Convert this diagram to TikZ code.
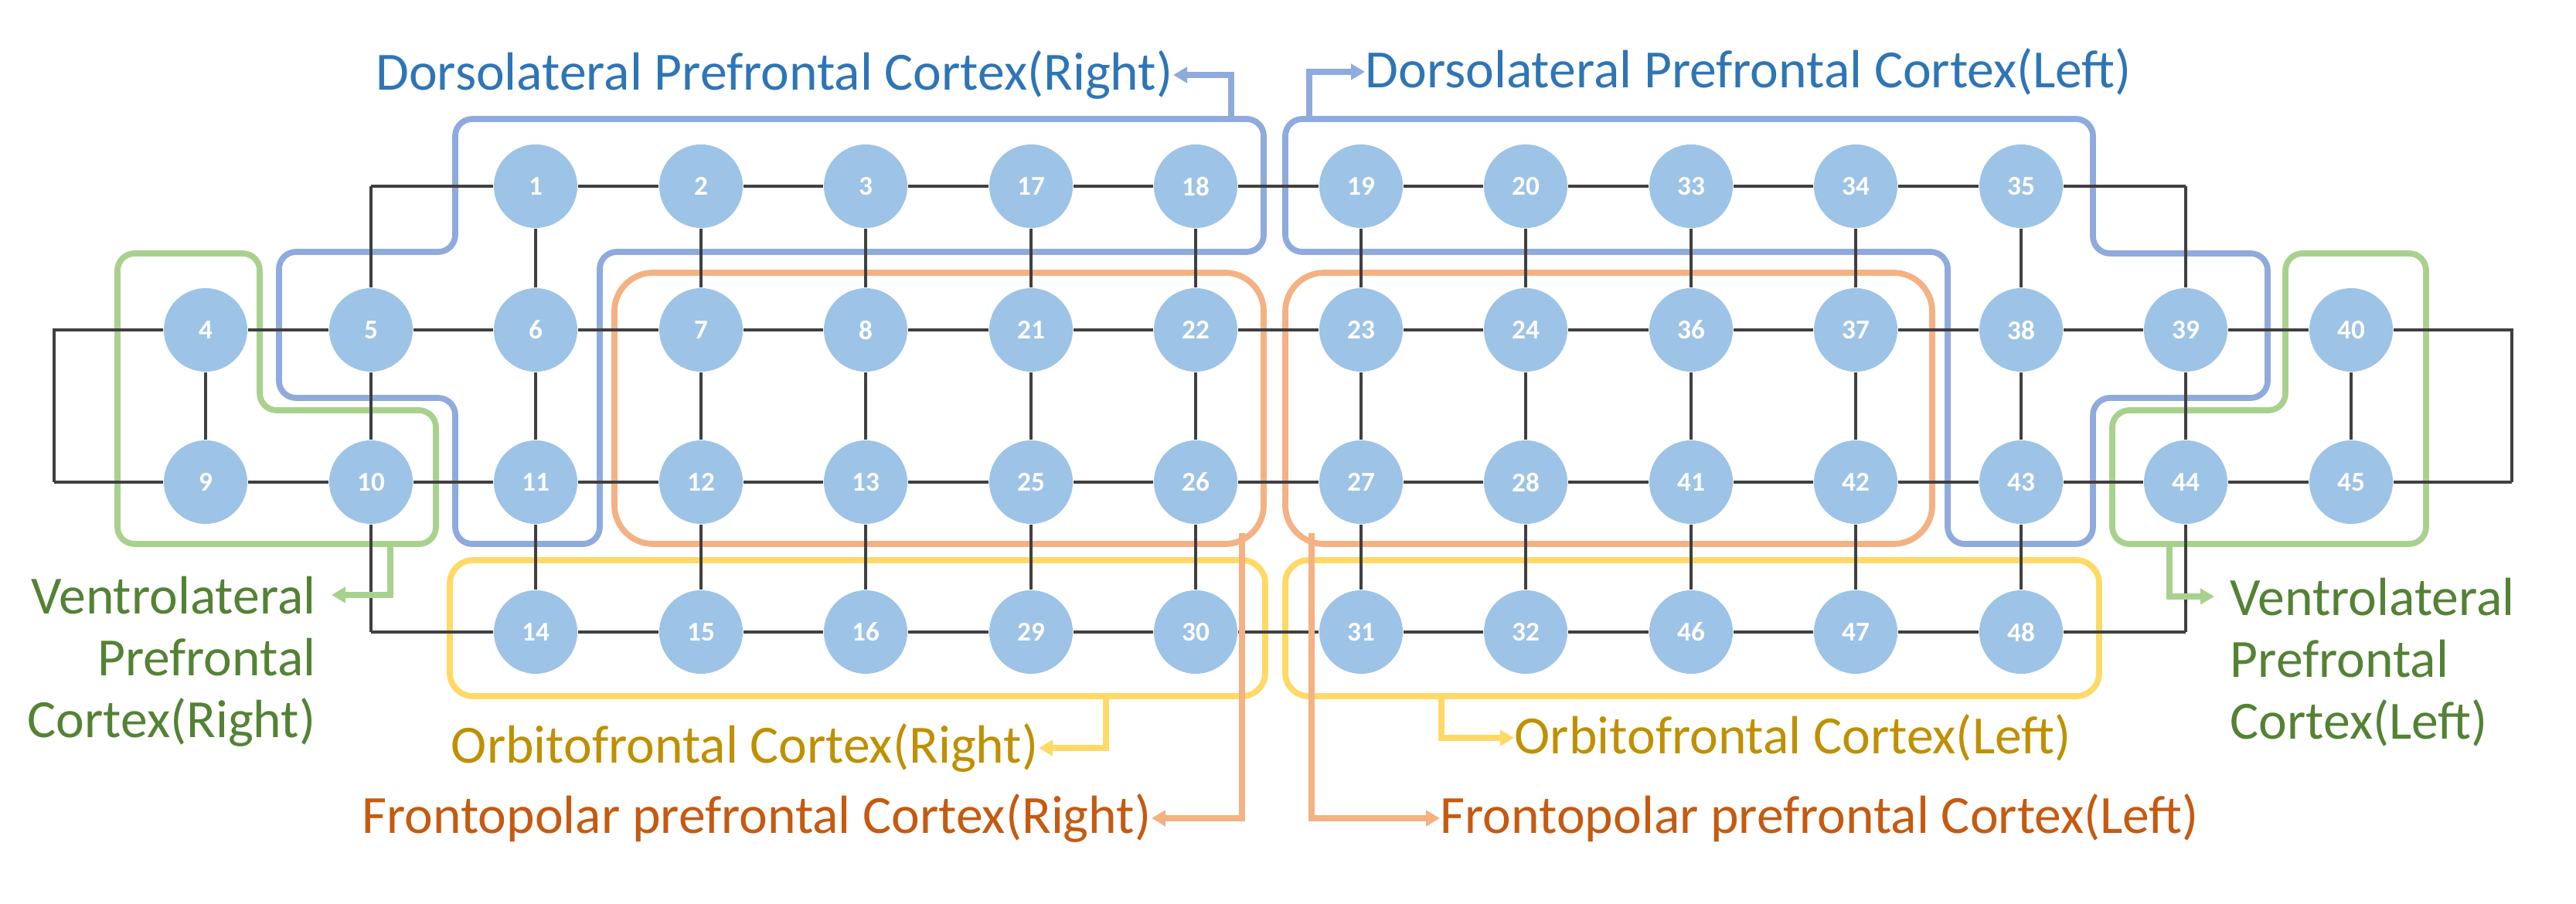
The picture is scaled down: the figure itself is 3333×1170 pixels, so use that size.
\documentclass[tikz,border=0pt]{standalone}
\usepackage{fontspec}
\setmainfont{Carlito}
\usetikzlibrary{arrows.meta}
\definecolor{nodefill}{HTML}{9DC3E6}
\definecolor{gridc}{HTML}{404040}
\definecolor{bluel}{HTML}{8FAADC}
\definecolor{bluet}{HTML}{2E75B6}
\definecolor{orl}{HTML}{F4B183}
\definecolor{ort}{HTML}{C55A11}
\definecolor{yel}{HTML}{FFD966}
\definecolor{yet}{HTML}{BF9000}
\definecolor{grl}{HTML}{A9D18E}
\definecolor{grt}{HTML}{548235}
\tikzset{
  ch/.style={circle,fill=nodefill,minimum size=1.08cm,inner sep=0pt,text=white,font=\fontsize{10}{12}\selectfont\bfseries},
  grid/.style={gridc,line width=0.9pt},
  reg/.style={line width=2.2pt,rounded corners=0.22cm},
  arr/.style={line width=2.2pt,-{Triangle[length=0.18cm,width=0.2cm]}},
  lab/.style={font=\fontsize{19.8}{22.8}\selectfont,inner sep=0pt},
}
\begin{document}
\begin{tikzpicture}[x=0.01cm,y=-0.01cm]
\useasboundingbox (0,0) rectangle (3333,1170);
% regions (behind)
\draw[reg,bluel] (589,154) -- (1635,154) -- (1635,326) -- (776,326) -- (776,704) -- (589,704) -- (589,515) -- (361,515) -- (361,326) -- (589,326) -- cycle;
\draw[reg,bluel] (1663,154) -- (2708,154) -- (2708,328) -- (2934,328) -- (2934,515) -- (2708,515) -- (2708,704) -- (2520,704) -- (2520,326) -- (1663,326) -- cycle;
\draw[reg,grl] (152,328) -- (336,328) -- (336,531) -- (564,531) -- (564,704) -- (152,704) -- cycle;
\draw[reg,grl] (2957,328) -- (3139,328) -- (3139,704) -- (2733,704) -- (2733,531) -- (2957,531) -- cycle;
\draw[reg,orl,rounded corners=0.5cm] (795,353) rectangle (1635,704);
\draw[reg,orl,rounded corners=0.5cm] (1663,353) rectangle (2500,704);
\draw[reg,yel,rounded corners=0.3cm] (582,725) rectangle (1637,901);
\draw[reg,yel,rounded corners=0.3cm] (1663,725) rectangle (2716,901);
% nodes
\foreach \n/\x/\y in {1/693/241,2/907/241,3/1120/241,17/1334/241,18/1547/241,19/1761/241,20/1974/241,33/2188/241,34/2401/241,35/2615/241,
 4/266/427,5/480/427,6/693/427,7/907/427,8/1120/427,21/1334/427,22/1547/427,23/1761/427,24/1974/427,36/2188/427,37/2401/427,38/2615/427,39/2828/427,40/3042/427,
 9/266/624,10/480/624,11/693/624,12/907/624,13/1120/624,25/1334/624,26/1547/624,27/1761/624,28/1974/624,41/2188/624,42/2401/624,43/2615/624,44/2828/624,45/3042/624,
 14/693/818,15/907/818,16/1120/818,29/1334/818,30/1547/818,31/1761/818,32/1974/818,46/2188/818,47/2401/818,48/2615/818}
 \node[ch] (n\n) at (\x,\y) {\n};
\coordinate (c1) at (480,241); \coordinate (c2) at (2828,241);
\coordinate (c3) at (480,818); \coordinate (c4) at (2828,818);
\coordinate (l1) at (70,427); \coordinate (l2) at (70,624);
\coordinate (r1) at (3250,427); \coordinate (r2) at (3250,624);
% grid
\draw[grid] (c1) -- (n1) -- (n2) -- (n3) -- (n17) -- (n18) -- (n19) -- (n20) -- (n33) -- (n34) -- (n35) -- (c2);
\draw[grid] (c3) -- (n14) -- (n15) -- (n16) -- (n29) -- (n30) -- (n31) -- (n32) -- (n46) -- (n47) -- (n48) -- (c4);
\draw[grid] (l2) -- (l1) -- (n4) -- (n5) -- (n6) -- (n7) -- (n8) -- (n21) -- (n22) -- (n23) -- (n24) -- (n36) -- (n37) -- (n38) -- (n39) -- (n40) -- (r1) -- (r2);
\draw[grid] (l2) -- (n9) -- (n10) -- (n11) -- (n12) -- (n13) -- (n25) -- (n26) -- (n27) -- (n28) -- (n41) -- (n42) -- (n43) -- (n44) -- (n45) -- (r2);
\draw[grid] (c1) -- (n5) -- (n10) -- (c3);
\draw[grid] (c2) -- (n39) -- (n44) -- (c4);
\draw[grid] (n4) -- (n9); \draw[grid] (n40) -- (n45);
\foreach \a/\b/\c/\d in {1/6/11/14,2/7/12/15,3/8/13/16,17/21/25/29,18/22/26/30,19/23/27/31,20/24/28/32,33/36/41/46,34/37/42/47,35/38/43/48}
 \draw[grid] (n\a) -- (n\b) -- (n\c) -- (n\d);
% labels
\node[lab,text=bluet,anchor=east] (tdr) at (1518,97) {Dorsolateral Prefrontal Cortex(Right)};
\node[lab,text=bluet,anchor=west] (tdl) at (1766,93) {Dorsolateral Prefrontal Cortex(Left)};
\node[lab,text=ort,anchor=east] (tfr) at (1490,1059) {Frontopolar prefrontal Cortex(Right)};
\node[lab,text=ort,anchor=west] (tfl) at (1863,1059) {Frontopolar prefrontal Cortex(Left)};
\node[lab,text=yet,anchor=east] (tor) at (1344,968) {Orbitofrontal Cortex(Right)};
\node[lab,text=yet,anchor=west] (tol) at (1959,955) {Orbitofrontal Cortex(Left)};
\node[lab,text=grt,anchor=north east,align=right] (tvr) at (409,745) {Ventrolateral\\Prefrontal\\Cortex(Right)};
\node[lab,text=grt,anchor=north west,align=left] (tvl) at (2885,747) {Ventrolateral\\Prefrontal\\Cortex(Left)};
% arrows
\draw[arr,bluel] (1593,154) -- (1593,97) -- (tdr.east);
\draw[arr,bluel] (1694,154) -- (1694,93) -- (tdl.west);
\draw[arr,orl] (1607,690) -- (1607,1059) -- (tfr.east);
\draw[arr,orl] (1697,690) -- (1697,1059) -- (tfl.west);
\draw[arr,yel] (1431,901) -- (1431,968) -- (tor.east);
\draw[arr,yel] (1865,901) -- (1865,955) -- (tol.west);
\draw[arr,grl] (505,704) -- (505,770) -- ([xshift=0.2cm]409,770);
\draw[arr,grl] (2807,704) -- (2807,772) -- ([xshift=-0.2cm]2885,772);
\end{tikzpicture}
\end{document}
